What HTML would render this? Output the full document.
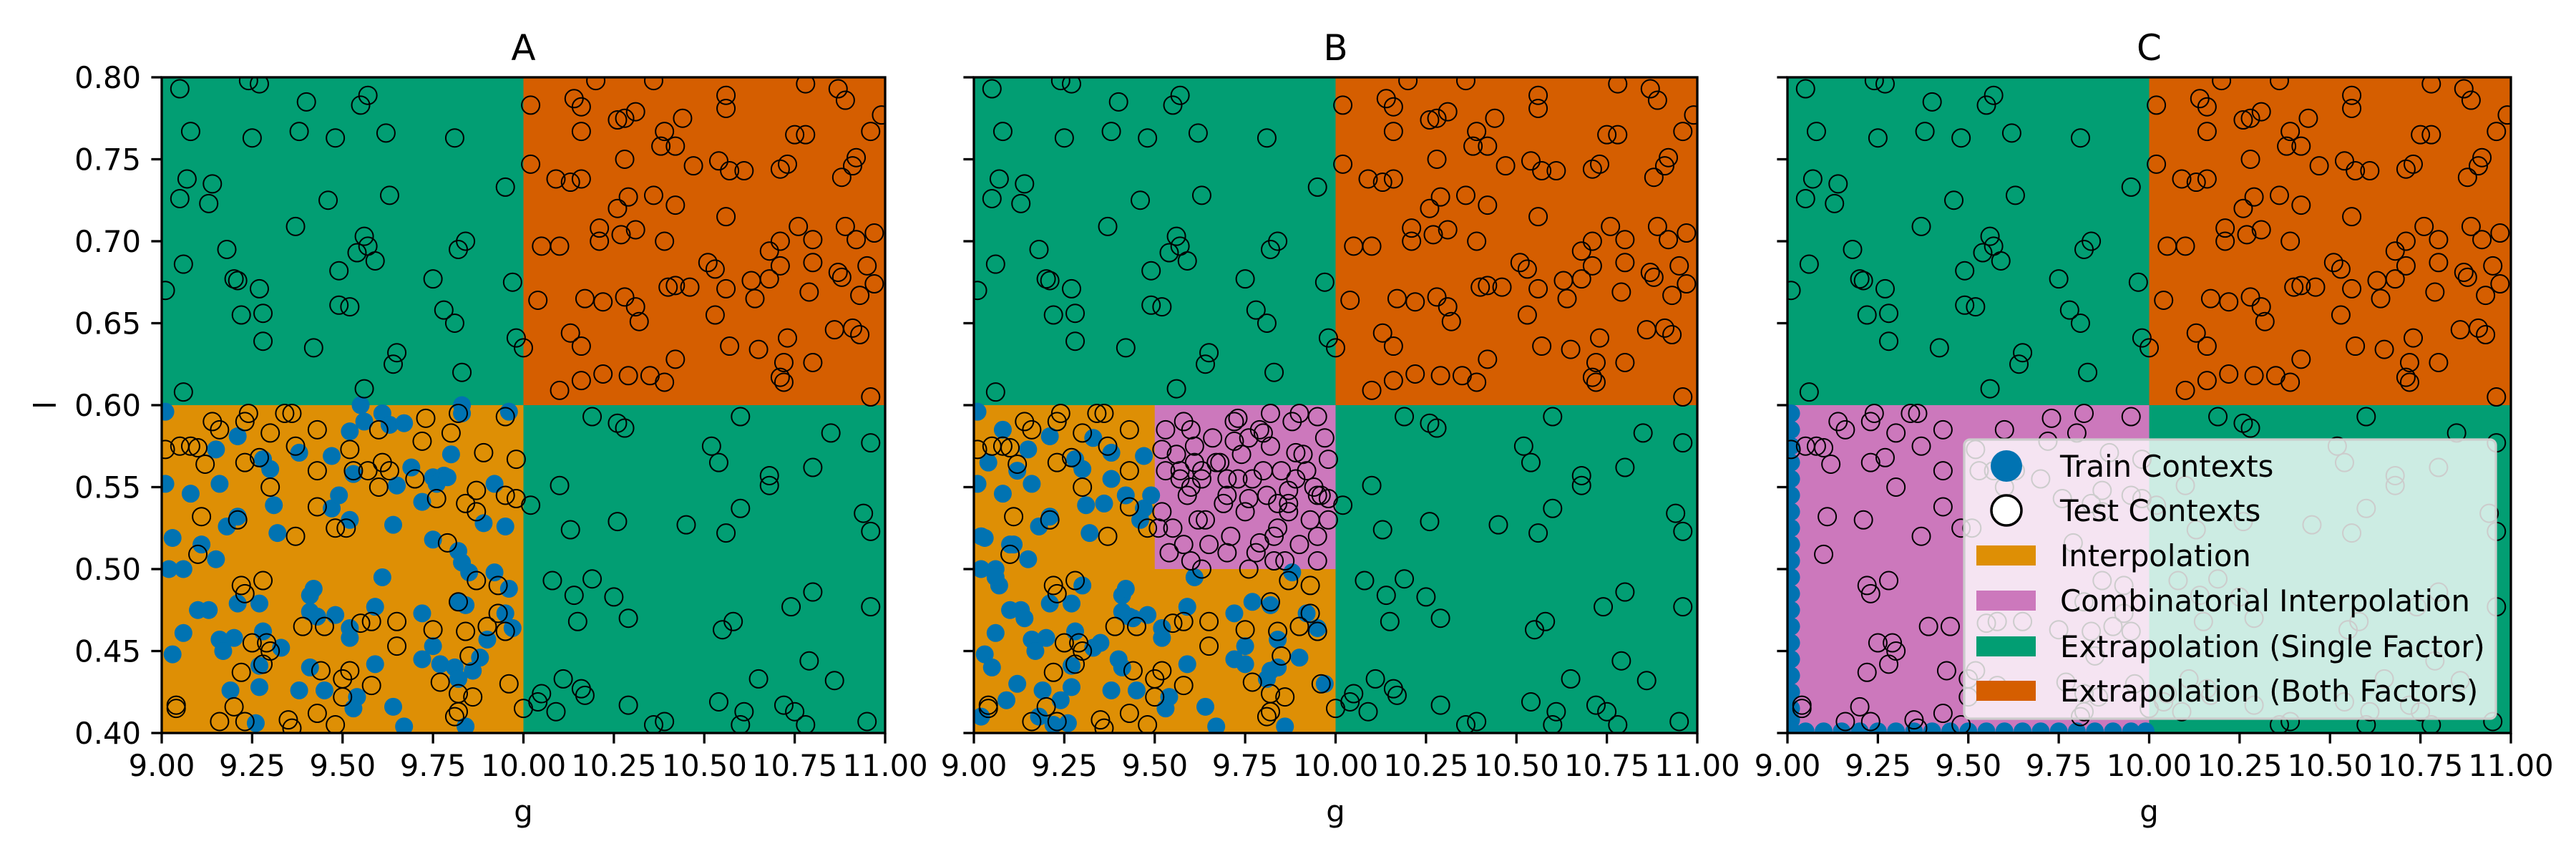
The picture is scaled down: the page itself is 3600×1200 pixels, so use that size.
<!DOCTYPE html>
<html><head><meta charset="utf-8"><style>
html,body{margin:0;padding:0;background:#fff}
svg{display:block}
text{font-family:"DejaVu Sans","Liberation Sans",sans-serif;fill:#000}
</style></head><body>
<svg id="fig" width="3600" height="1200" viewBox="0 0 3600 1200" xmlns="http://www.w3.org/2000/svg"></svg>
<script>
const panelTitles = ["A","B","C"];
const xTicks = [9.00,9.25,9.50,9.75,10.00,10.25,10.50,10.75,11.00];
const yTicks = [0.40,0.45,0.50,0.55,0.60,0.65,0.70,0.75,0.80];
const testG = [9.05,9.24,9.27,9.08,9.25,9.40,9.38,9.48,9.55,9.57,9.62,9.81,9.07,9.05,9.14,9.13,9.46,9.63,9.95,9.37,9.56,9.18,9.06,9.54,9.57,9.59,9.82,9.84,9.49,9.01,9.20,9.21,9.27,9.75,9.97,9.49,9.52,9.22,9.28,9.78,9.81,9.28,9.42,9.65,9.64,9.98,10.0,9.83,9.06,9.56,
10.02,10.14,10.16,10.2,10.36,10.56,10.56,10.78,10.87,10.89,10.99,10.26,10.28,10.31,10.16,10.39,10.44,10.38,10.42,10.75,10.78,10.96,10.02,10.09,10.13,10.16,10.28,10.47,10.54,10.57,10.61,10.71,10.73,10.92,10.91,10.88,10.26,10.29,10.36,10.42,10.56,10.21,10.27,10.31,10.76,10.80,10.89,10.92,10.97,10.05,10.1,10.21,10.39,10.71,10.68,10.51,10.53,10.71,10.80,10.95,10.40,10.42,10.46,10.56,10.63,10.68,10.87,10.88,10.93,10.97,10.79,10.04,10.17,10.22,10.28,10.31,10.32,10.64,10.53,10.13,10.16,10.57,10.65,10.73,10.86,10.91,10.93,10.72,10.80,10.42,10.22,10.29,10.35,10.39,10.10,10.16,10.71,10.72,10.96,
10.19,10.26,10.28,10.60,10.85,10.96,10.52,10.54,10.68,10.68,10.80,10.10,10.02,10.26,10.60,10.45,10.56,10.13,10.94,10.96,10.08,10.19,10.14,10.25,10.29,10.15,10.55,10.58,10.74,10.80,10.96,10.11,10.16,10.17,10.05,10.04,10.09,10.29,10.65,10.79,10.86,10.54,10.61,10.72,10.75,10.36,10.39,10.60,10.78,10.95,10.0,
9.01,9.05,9.08,9.10,9.12,9.14,9.16,9.23,9.24,9.23,9.27,9.30,9.30,9.34,9.36,9.37,9.43,9.43,9.52,9.53,9.57,9.60,9.61,9.63,9.70,9.72,9.73,9.80,9.82,9.89,9.95,9.98,9.95,9.98,9.76,9.84,9.87,9.60,9.11,9.21,9.43,9.48,9.51,9.37,9.79,9.87,9.10,9.22,9.23,9.28,9.87,9.93,9.39,9.45,9.55,9.58,9.65,9.75,9.82,9.84,9.90,9.95,9.93,9.25,9.29,9.30,9.22,9.28,9.44,9.50,9.52,9.58,9.65,9.77,9.85,9.96,9.82,9.86,9.04,9.04,9.16,9.20,9.23,9.35,9.36,9.43,9.48,9.50,9.82,9.81];
const testL = [.793,.798,.796,.767,.763,.785,.767,.763,.783,.789,.766,.763,.738,.726,.735,.723,.725,.728,.733,.709,.703,.695,.686,.693,.697,.688,.695,.7,.682,.670,.677,.676,.671,.677,.675,.661,.66,.655,.656,.658,.65,.639,.635,.632,.625,.641,.635,.62,.608,.61,
.783,.787,.782,.798,.798,.789,.781,.796,.793,.786,.777,.774,.775,.779,.767,.767,.775,.758,.758,.765,.765,.767,.747,.738,.736,.738,.75,.746,.749,.743,.743,.744,.747,.751,.746,.739,.72,.727,.728,.722,.715,.708,.704,.707,.709,.701,.709,.701,.705,.697,.697,.7,.7,.7,.694,.687,.683,.685,.687,.685,.672,.673,.672,.671,.676,.677,.681,.678,.667,.674,.669,.664,.665,.663,.666,.66,.651,.665,.655,.644,.636,.636,.634,.641,.646,.647,.643,.626,.626,.628,.619,.618,.618,.614,.609,.615,.617,.614,.605,
.593,.589,.586,.593,.583,.577,.575,.565,.557,.551,.562,.551,.539,.529,.537,.527,.522,.524,.534,.523,.493,.494,.484,.483,.47,.468,.463,.468,.477,.486,.477,.433,.427,.423,.424,.419,.413,.417,.433,.444,.432,.419,.413,.417,.413,.405,.407,.405,.405,.407,.415,
.573,.575,.575,.574,.564,.590,.585,.590,.595,.565,.568,.583,.550,.595,.595,.575,.585,.560,.573,.560,.560,.585,.565,.560,.555,.578,.592,.583,.595,.571,.593,.567,.545,.543,.543,.540,.548,.550,.532,.530,.538,.525,.525,.520,.516,.535,.509,.490,.485,.493,.493,.490,.465,.465,.467,.468,.468,.463,.480,.462,.465,.462,.473,.455,.455,.450,.437,.442,.438,.433,.438,.429,.453,.431,.447,.430,.424,.422,.417,.415,.407,.416,.407,.408,.403,.412,.405,.422,.413,.410];
const pinkTestG = [9.53,9.56,9.58,9.61,9.63,9.66,9.68,9.70,9.72,9.74,9.77,9.79,9.82,9.85,9.88,9.91,9.94,9.97,9.52,9.55,9.59,9.62,9.65,9.69,9.71,9.75,9.78,9.81,9.84,9.87,9.90,9.93,9.96,9.54,9.57,9.60,9.64,9.67,9.73,9.76,9.80,9.83,9.86,9.89,9.92,9.95,9.98,9.58,9.63,9.70,9.76,9.83,9.90,9.95];
const pinkTestL = [.585,.57,.59,.575,.555,.58,.565,.545,.59,.57,.555,.585,.575,.56,.59,.57,.55,.58,.535,.525,.545,.53,.515,.54,.52,.535,.51,.545,.525,.54,.515,.53,.545,.51,.555,.505,.53,.565,.555,.5,.56,.52,.505,.555,.56,.505,.53,.515,.5,.51,.58,.505,.595,.52];
const trainAG = [9.01,9.01,9.03,9.02,9.06,9.08,9.11,9.10,9.13,9.15,9.16,9.15,9.18,9.21,9.21,9.16,9.17,9.20,9.06,9.03,9.21,9.27,9.28,9.30,9.28,9.31,9.32,9.27,9.19,9.26,9.27,9.33,9.38,9.41,9.42,9.41,9.43,9.41,9.38,9.45,9.47,9.49,9.47,9.52,9.53,9.52,9.55,9.56,9.48,9.52,9.52,9.54,9.53,9.59,9.59,9.61,9.63,9.65,9.64,9.61,9.64,9.67,9.67,9.69,9.72,9.72,9.72,9.75,9.78,9.76,9.75,9.75,9.77,9.79,9.80,9.83,9.83,9.82,9.83,9.85,9.82,9.84,9.81,9.82,9.86,9.84,9.90,9.88,9.89,9.92,9.95,9.96,9.96,9.92,9.95,9.97];
const trainAL = [.596,.552,.519,.500,.500,.546,.515,.475,.475,.506,.552,.573,.526,.532,.581,.457,.450,.458,.461,.448,.479,.479,.462,.561,.567,.539,.522,.428,.426,.406,.441,.452,.571,.484,.488,.474,.471,.440,.426,.426,.537,.545,.569,.530,.558,.584,.600,.590,.472,.464,.458,.422,.415,.477,.442,.595,.588,.551,.527,.495,.416,.404,.589,.562,.541,.473,.445,.556,.557,.552,.518,.453,.442,.556,.570,.600,.595,.511,.504,.498,.480,.478,.440,.433,.438,.404,.457,.446,.528,.552,.526,.488,.596,.498,.473,.464];
const trainBG = [9.01,9.01,9.03,9.02,9.06,9.08,9.11,9.10,9.13,9.15,9.16,9.15,9.18,9.21,9.21,9.16,9.17,9.20,9.06,9.03,9.21,9.27,9.28,9.30,9.28,9.31,9.32,9.27,9.19,9.26,9.27,9.33,9.38,9.41,9.42,9.41,9.43,9.41,9.38,9.45,9.47,9.49,9.47,9.48,9.52,9.52,9.54,9.53,9.59,9.59,9.61,9.64,9.67,9.72,9.72,9.75,9.75,9.77,9.82,9.84,9.81,9.82,9.86,9.84,9.90,9.88,9.92,9.95,9.97,9.02,9.05,9.09,9.12,9.18,9.24,9.30,9.35,9.40,9.44,9.22,9.14,9.07,9.02,9.04,9.08,9.12,9.36,9.42,9.46,9.38,9.33,9.10,9.06];
const trainBL = [.596,.552,.519,.500,.500,.546,.515,.475,.475,.506,.552,.573,.526,.532,.581,.457,.450,.458,.461,.448,.479,.479,.462,.561,.567,.539,.522,.428,.426,.406,.441,.452,.571,.484,.488,.474,.471,.440,.426,.426,.537,.545,.569,.472,.464,.458,.422,.415,.477,.442,.495,.416,.404,.473,.445,.453,.442,.480,.478,.440,.433,.438,.404,.457,.446,.498,.473,.464,.43,.41,.44,.42,.43,.41,.42,.49,.455,.445,.47,.405,.47,.49,.52,.565,.585,.56,.54,.545,.53,.555,.58,.515,.495,.43,.405];
const trainCG = [9.01,9.01,9.01,9.01,9.01,9.01,9.01,9.01,9.01,9.01,9.01,9.01,9.01,9.01,9.01,9.01,9.01,9.01,9.01,9.01,9.01,9.05,9.1,9.15,9.2,9.25,9.3,9.35,9.4,9.45,9.5,9.55,9.6,9.65,9.7,9.75,9.8,9.85,9.9,9.95,9.99];
const trainCL = [.595,.585,.575,.565,.555,.545,.535,.525,.515,.505,.495,.485,.475,.465,.455,.445,.435,.425,.415,.408,.402,.401,.401,.401,.401,.401,.401,.401,.401,.401,.401,.401,.401,.401,.401,.401,.401,.401,.401,.401,.401];
const legendLabels = ["Train Contexts","Test Contexts","Interpolation","Combinatorial Interpolation","Extrapolation (Single Factor)","Extrapolation (Both Factors)"];

const C = {interp:"#de8f05", comb:"#cc78bc", single:"#029e73", both:"#d55e00", blue:"#0173b2"};
const NS = "http://www.w3.org/2000/svg";
const svg = document.getElementById('fig');
function el(tag, attrs, parent){const e=document.createElementNS(NS,tag);for(const k in attrs)e.setAttribute(k,attrs[k]);(parent||svg).appendChild(e);return e;}

const lefts = [226, 1361, 2498];
const TOP = 108, W = 1011, H = 916;
const FS = 41.7;

const regions = [
 [[9,10,.4,.6,C.interp],[9,10,.6,.8,C.single],[10,11,.6,.8,C.both],[10,11,.4,.6,C.single]],
 [[9,10,.4,.6,C.interp],[9.5,10,.5,.6,C.comb],[9,10,.6,.8,C.single],[10,11,.6,.8,C.both],[10,11,.4,.6,C.single]],
 [[9,10,.4,.6,C.comb],[9,10,.6,.8,C.single],[10,11,.6,.8,C.both],[10,11,.4,.6,C.single]]
];
const trains = [[trainAG,trainAL],[trainBG,trainBL],[trainCG,trainCL]];

for(let p=0;p<3;p++){
  const L = lefts[p];
  const xs = g => L + (g-9)/2*W;
  const ys = l => TOP + (0.8-l)/0.4*H;
  const grp = el('g',{});
  
  
  const clipId='clip'+p;
  const cp = el('clipPath',{id:clipId},grp); el('rect',{x:L,y:TOP,width:W,height:H},cp);
  const plot = el('g',{'clip-path':'url(#'+clipId+')'},grp);
  for(const r of regions[p]){
    const rc = el('rect',{x:xs(r[0]),y:ys(r[3]),width:xs(r[1])-xs(r[0]),height:ys(r[2])-ys(r[3]),fill:r[4]},plot);
    
    
  }
  const [tg,tl] = trains[p];
  for(let i=0;i<tg.length;i++){
    const c = el('circle',{cx:xs(tg[i]),cy:ys(tl[i]),r:12.5,fill:C.blue},plot);
    
    
  }
  for(let i=0;i<testG.length;i++){
    const c = el('circle',{cx:xs(testG[i]),cy:ys(testL[i]),r:12.5,fill:'none',stroke:'#000','stroke-width':2},plot);
    
    
  }
  if(p===1){
    for(let i=0;i<pinkTestG.length;i++){
      const c = el('circle',{cx:xs(pinkTestG[i]),cy:ys(pinkTestL[i]),r:12.5,fill:'none',stroke:'#000','stroke-width':2},plot);
      
      
    }
  }
  const fr = el('rect',{x:L,y:TOP,width:W,height:H,fill:'none',stroke:'#000','stroke-width':3.3},grp);
  
  
  for(const t of xTicks){
    el('line',{x1:xs(t),x2:xs(t),y1:TOP+H,y2:TOP+H+14.6,stroke:'#000','stroke-width':3.3},grp);
    const tx = el('text',{x:xs(t),y:TOP+H+60,'font-size':FS,'text-anchor':'middle'},grp);
    tx.textContent = t.toFixed(2);
    
    
  }
  for(const t of yTicks){
    el('line',{x1:L,x2:L-14.6,y1:ys(t),y2:ys(t),stroke:'#000','stroke-width':3.3},grp);
    if(p===0){
      const tx = el('text',{x:L-29,y:ys(t)+15,'font-size':FS,'text-anchor':'end'},grp);
      tx.textContent = t.toFixed(2);
      
      
    }
  }
  const ti = el('text',{x:L+W/2,y:TOP-24,'font-size':50,'text-anchor':'middle'},grp);
  ti.textContent = panelTitles[p];
  
  
  const xl = el('text',{x:L+W/2,y:1148,'font-size':FS,'text-anchor':'middle'},grp);
  xl.textContent = 'g';
  
  
}
const yl = el('text',{x:0,y:0,'font-size':FS,'text-anchor':'middle',transform:'translate(78,566) rotate(-90)'});
yl.textContent = 'l';



const lg = el('g',{});


el('rect',{x:2745,y:614,width:743,height:390,rx:8,fill:'#fff','fill-opacity':0.8,stroke:'#cccccc','stroke-width':3.3},lg);
const rowsY=[651,713,776,839,903,965];
const sw=[null,null,C.interp,C.comb,C.single,C.both];
for(let i=0;i<6;i++){
  const y=rowsY[i];
  if(i===0) el('ellipse',{cx:2804,cy:y,rx:22,ry:22,fill:C.blue},lg);
  else if(i===1) el('circle',{cx:2804,cy:y,r:21,fill:'#fff',stroke:'#000','stroke-width':3.5},lg);
  else el('rect',{x:2762,y:y-14,width:83,height:28,fill:sw[i]},lg);
  const t=el('text',{x:2879,y:y+15,'font-size':FS},lg);
  t.textContent=legendLabels[i];
  
  
}
</script>
</body></html>
